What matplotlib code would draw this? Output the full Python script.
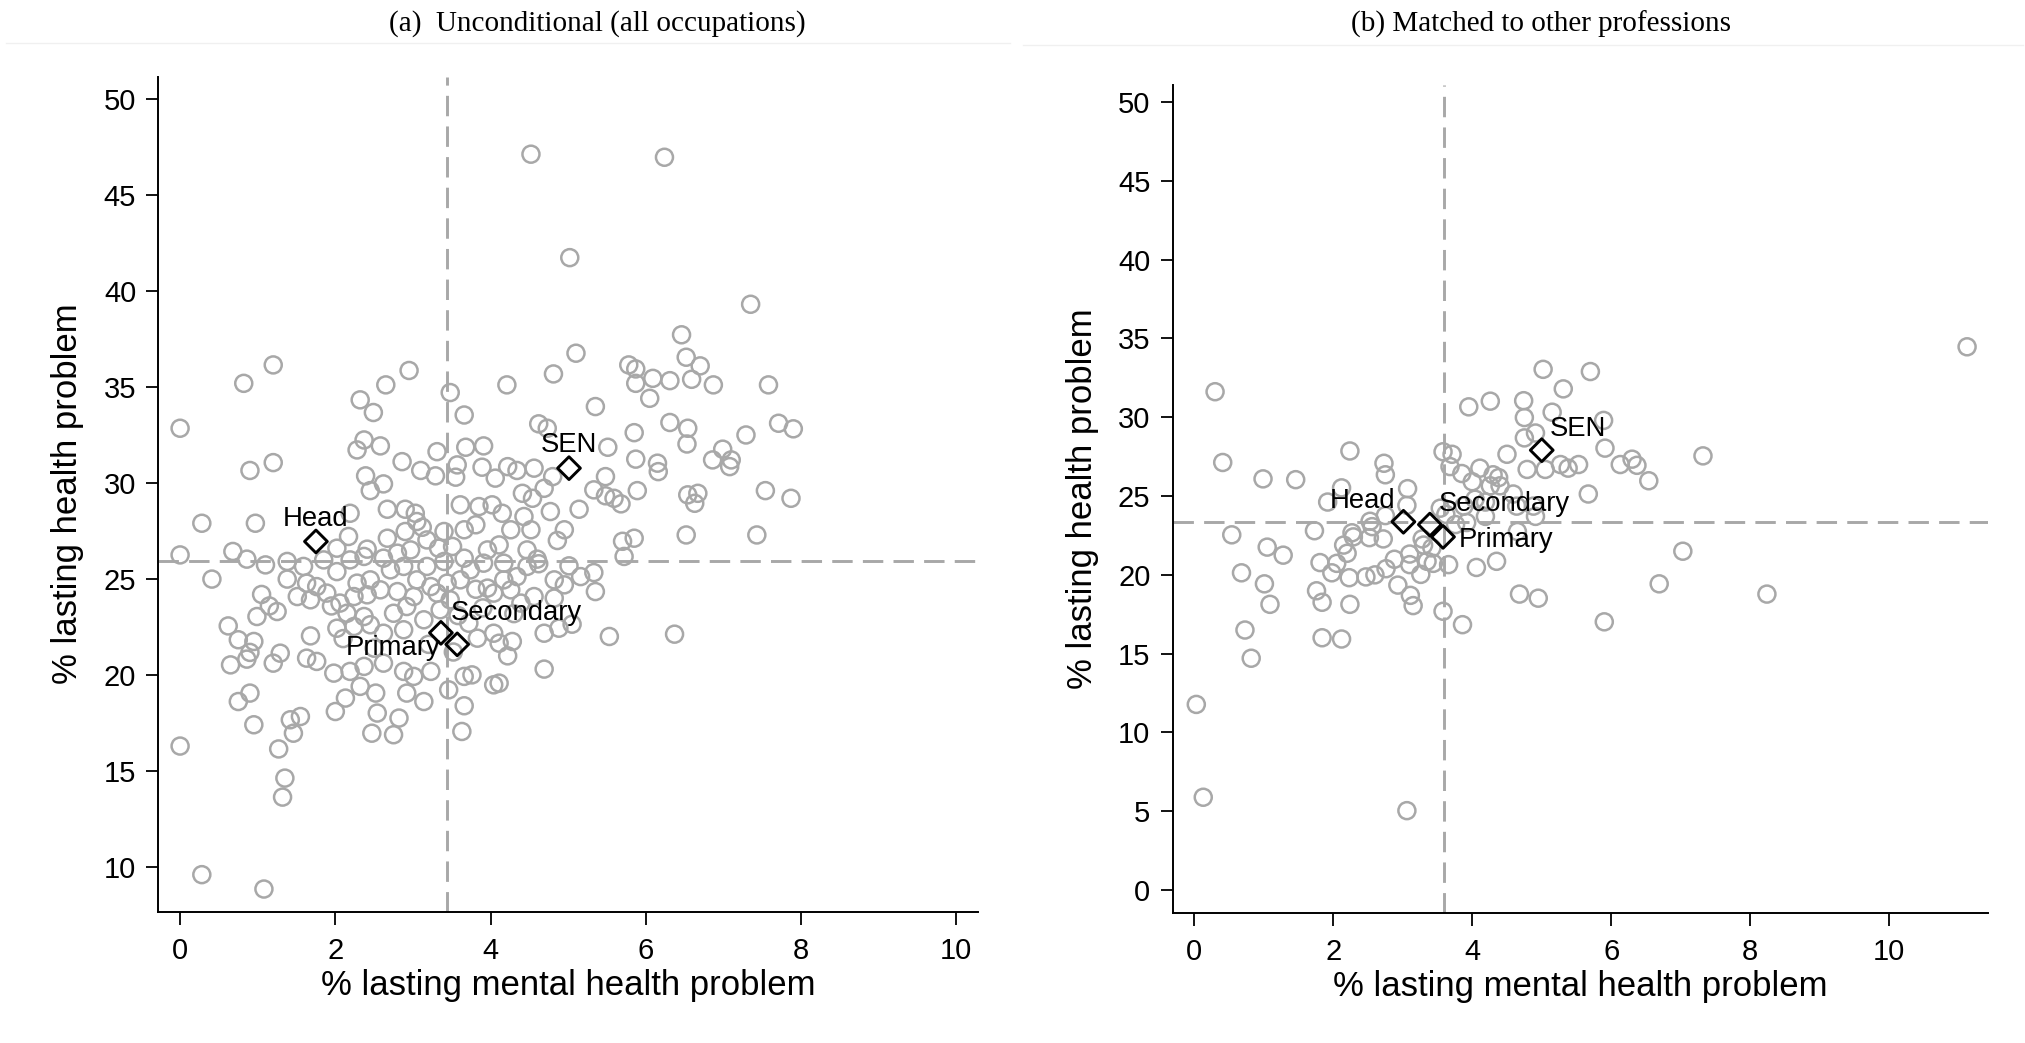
import matplotlib
matplotlib.use("Agg")
import matplotlib.pyplot as plt
from matplotlib.lines import Line2D

# ---------------- Panel (a): all occupations ----------------
mental_a = [
    1.20, 0.82, 2.65, 2.95, 4.21, 4.81, 5.10, 5.78, 5.87, 5.87, 3.48, 2.32, 2.49, 3.66, 5.35, 6.05,
    0.00, 4.62, 4.73, 5.85, 2.37, 2.28, 2.58, 3.68, 3.91, 5.51, 3.31, 1.20, 0.90, 2.86, 3.10, 3.29,
    3.57, 3.55, 3.89, 4.06, 4.22, 4.34, 4.56, 2.39, 4.80, 5.48, 5.87, 2.45, 2.62, 4.41, 4.54, 4.69,
    5.33, 5.48, 5.59, 5.68, 5.89, 2.67, 2.90, 3.03, 3.61, 3.85, 4.02, 4.15, 4.77, 5.14, 2.19, 0.28,
    0.97, 3.05, 3.40, 3.66, 3.81, 4.26, 4.43, 4.52, 4.95, 4.86, 2.90, 2.67, 2.41, 2.17, 2.02, 0.68,
    0.86, 0.00, 3.18, 3.33, 3.51, 3.96, 4.11, 4.47, 4.60, 5.70, 5.85, 5.72, 5.01, 2.97, 2.80, 1.10,
    1.38, 1.59, 1.85, 2.19, 2.37, 2.62, 2.88, 3.18, 3.40, 3.66, 3.74, 3.91, 4.17, 4.47, 0.41, 1.38,
    1.63, 1.76, 2.02, 2.28, 2.45, 2.71, 3.05, 3.23, 3.44, 3.61, 3.96, 4.17, 4.34, 4.82, 5.16, 5.33,
    5.35, 4.95, 1.51, 1.68, 1.89, 2.06, 2.24, 2.41, 2.58, 2.80, 3.01, 3.31, 3.48, 3.81, 4.04, 4.26,
    4.39, 4.56, 4.82, 0.62, 0.99, 1.25, 2.15, 2.37, 2.75, 2.92, 3.14, 0.75, 0.95, 0.90, 1.29, 1.68,
    2.02, 2.24, 2.45, 2.62, 2.88, 4.04, 4.69, 4.88, 5.05, 5.53, 4.11, 4.28, 3.83, 0.65, 0.86, 1.20,
    1.63, 1.76, 1.98, 2.19, 2.37, 2.62, 2.88, 3.01, 3.23, 3.66, 3.76, 4.22, 4.69, 4.04, 4.11, 0.75,
    0.90, 2.13, 2.32, 2.52, 2.92, 3.14, 3.46, 3.66, 0.95, 1.42, 1.55, 1.46, 2.00, 2.54, 2.82, 2.47,
    2.75, 3.63, 0.00, 1.27,
    6.52, 6.70, 6.59, 6.09, 6.31, 6.87, 7.58, 6.31, 6.54, 6.53, 7.29, 7.71, 7.90, 6.86, 6.99, 7.10,
    7.08, 6.15, 6.16, 6.54, 6.67, 6.63, 7.54, 7.87, 6.52, 7.43, 6.37,
    4.52, 6.24, 5.02, 7.35, 6.46,
    1.35, 1.32, 0.28, 1.08,
    3.35, 3.58, 3.72, 3.20, 3.52, 2.50, 2.10, 1.95, 4.30, 4.62, 1.05, 1.15, 3.90, 3.12,
]
health_a = [
    36.16, 35.20, 35.12, 35.87, 35.12, 35.69, 36.77, 36.16, 35.95, 35.20, 34.72, 34.34, 33.68, 33.55, 33.99, 34.42,
    32.86, 33.09, 32.86, 32.63, 32.25, 31.73, 31.94, 31.87, 31.94, 31.87, 31.64, 31.07, 30.66, 31.12, 30.66, 30.38,
    30.95, 30.31, 30.83, 30.26, 30.86, 30.66, 30.78, 30.38, 30.34, 30.34, 31.25, 29.61, 29.96, 29.47, 29.21, 29.73,
    29.65, 29.34, 29.21, 28.92, 29.61, 28.64, 28.64, 28.43, 28.87, 28.78, 28.87, 28.43, 28.52, 28.64, 28.43, 27.91,
    27.91, 28.00, 27.48, 27.57, 27.83, 27.57, 28.26, 27.57, 27.57, 27.01, 27.48, 27.13, 26.56, 27.22, 26.61, 26.44,
    26.04, 26.26, 27.04, 26.61, 26.70, 26.52, 26.78, 26.52, 26.04, 26.97, 27.13, 26.18, 25.69, 26.52, 26.35, 25.74,
    25.92, 25.66, 26.00, 26.00, 26.18, 26.09, 25.66, 25.66, 25.92, 26.09, 25.48, 25.83, 25.83, 25.66, 25.00, 25.00,
    24.79, 24.61, 25.39, 24.79, 24.96, 25.48, 24.96, 24.61, 24.79, 24.96, 24.53, 24.96, 25.13, 24.96, 25.13, 25.34,
    24.35, 24.70, 24.09, 23.92, 24.27, 23.75, 24.09, 24.18, 24.44, 24.35, 24.09, 24.27, 23.92, 24.47, 24.27, 24.44,
    23.75, 24.09, 24.01, 22.56, 23.05, 23.31, 23.22, 23.05, 23.22, 23.57, 22.88, 21.84, 21.75, 21.18, 21.14, 22.04,
    22.44, 22.53, 22.62, 22.18, 22.36, 22.18, 22.18, 22.44, 22.65, 22.01, 21.66, 21.75, 21.92, 20.53, 20.83, 20.62,
    20.88, 20.71, 20.10, 20.19, 20.45, 20.62, 20.19, 19.93, 20.19, 19.93, 20.01, 21.00, 20.31, 19.49, 19.58, 18.62,
    19.06, 18.80, 19.41, 19.06, 19.06, 18.62, 19.23, 18.40, 17.41, 17.67, 17.84, 16.97, 18.10, 18.02, 17.76, 16.97,
    16.89, 17.06, 16.30, 16.15,
    36.56, 36.11, 35.41, 35.46, 35.34, 35.12, 35.12, 33.16, 32.86, 32.04, 32.51, 33.12, 32.83, 31.21, 31.77, 31.21,
    30.86, 31.04, 30.60, 29.39, 29.47, 28.95, 29.61, 29.21, 27.30, 27.30, 22.13,
    47.14, 46.98, 41.75, 39.32, 37.73,
    14.63, 13.64, 9.60, 8.85,
    23.40, 23.10, 22.70, 21.60, 21.20, 21.40, 21.90, 23.60, 23.20, 25.80, 24.20, 23.60, 23.50, 27.70,
]
groups = ["Head", "SEN", "Secondary", "Primary"]
grp_mental_a = [1.75, 5.01, 3.36, 3.57]
grp_health_a = [26.96, 30.78, 22.20, 21.60]
mean_mental_a = 3.44
mean_health_a = 25.95

# ---------------- Panel (b): matched to other professions ----------------
mental_b = [
    0.30, 0.41, 0.99, 1.46, 2.24, 2.73, 2.75, 3.07, 3.06, 2.12, 1.92, 3.95, 4.26, 4.74, 4.75, 5.02,
    5.31, 5.70, 5.15, 4.91, 4.75, 5.89, 5.91, 6.13, 6.30, 6.37, 6.54, 5.67, 5.53, 5.38, 5.27, 5.05,
    4.79, 4.50, 4.38, 4.26, 4.11, 3.85, 3.58, 3.71, 3.68, 4.00, 4.59, 4.64, 4.88, 4.91, 4.19, 4.19,
    3.88, 3.92, 3.62, 3.76, 3.54, 2.75, 2.53, 2.56, 2.27, 2.29, 2.52, 2.72, 2.15, 2.20, 1.73, 0.54,
    1.05, 1.28, 1.81, 2.05, 1.98, 2.23, 2.47, 2.60, 2.76, 2.88, 3.10, 3.10, 3.26, 3.35, 3.44, 3.30,
    3.66, 3.42, 3.28, 4.06, 4.35, 2.93, 3.11, 3.15, 3.58, 3.86, 0.68, 1.01, 1.09, 0.73, 0.82, 1.76,
    1.84, 2.24, 1.84, 2.12, 4.68, 4.95, 5.90, 6.69, 7.03, 4.65, 0.03, 0.13, 3.06, 4.30, 4.40, 4.04,
    11.12, 7.32, 8.24,
]
health_b = [
    31.62, 27.13, 26.09, 26.04, 27.86, 27.08, 26.35, 25.47, 24.41, 25.52, 24.62, 30.66, 31.02, 31.05, 29.98, 33.04,
    31.80, 32.90, 30.32, 29.00, 28.69, 29.80, 28.04, 27.00, 27.34, 26.95, 25.97, 25.13, 27.00, 26.77, 27.00, 26.69,
    26.69, 27.65, 26.17, 25.65, 26.77, 26.43, 27.81, 27.65, 26.87, 25.91, 25.13, 24.36, 24.36, 23.71, 24.62, 23.71,
    24.36, 23.32, 23.84, 23.19, 24.23, 23.76, 23.40, 23.06, 22.67, 22.41, 22.36, 22.28, 21.89, 21.37, 22.80, 22.54,
    21.76, 21.25, 20.78, 20.73, 20.13, 19.82, 19.87, 20.00, 20.39, 20.99, 21.32, 20.65, 20.03, 20.86, 20.73, 21.89,
    20.65, 21.71, 22.28, 20.47, 20.86, 19.35, 18.70, 18.05, 17.69, 16.84, 20.13, 19.43, 18.13, 16.50, 14.71, 18.99,
    18.26, 18.13, 16.01, 15.93, 18.78, 18.52, 17.02, 19.43, 21.50, 22.75, 11.78, 5.89, 5.04, 26.35, 25.65, 24.80,
    34.47, 27.55, 18.78,
]
grp_mental_b = [3.01, 5.00, 3.39, 3.58]
grp_health_b = [23.37, 27.91, 23.19, 22.41]
mean_mental_b = 3.59
mean_health_b = 23.38

# label placement per group: (ha, dx, dy) in points
label_pos_a = {
    "Head": ("center", 0, 11.5),
    "SEN": ("center", 0, 12),
    "Secondary": ("left", 7, 9.5),
    "Primary": ("right", -12, -7.5),
}
label_pos_b = {
    "Head": ("right", -6, 10),
    "SEN": ("left", 6, 10),
    "Secondary": ("left", 6.5, 10),
    "Primary": ("left", 11.5, -7.5),
}

SANS = "Liberation Sans"
SERIF = "Liberation Serif"
GREY = "#a8a8a8"
TICK_FS = 21
LABEL_FS = 25
MLAB_FS = 19.8

fig = plt.figure(figsize=(20.25, 10.43), dpi=100)
fig.patch.set_facecolor("white")


def draw_panel(ax, mx, hy, gx, gy, vmean, hmean, positions, xlim, ylim, yticks):
    ax.axvline(vmean, color=GREY, lw=2.1, dashes=(7, 3.5), zorder=1)
    ax.axhline(hmean, color=GREY, lw=2.1, dashes=(7, 3.5), zorder=1)
    ax.scatter(mx, hy, s=150, facecolors="none", edgecolors=GREY,
               linewidths=1.8, zorder=2)
    ax.scatter(gx, gy, s=135, marker="D", facecolors="none",
               edgecolors="black", linewidths=2.1, zorder=3)
    for name, x, y in zip(groups, gx, gy):
        ha, dx, dy = positions[name]
        ax.annotate(name, (x, y), xytext=(dx, dy), textcoords="offset points",
                    ha=ha, va="baseline", fontsize=MLAB_FS, family=SANS,
                    color="black", zorder=4)
    ax.set_xlim(*xlim)
    ax.set_ylim(*ylim)
    ax.set_xticks([0, 2, 4, 6, 8, 10])
    ax.set_yticks(yticks)
    for s in ("top", "right"):
        ax.spines[s].set_visible(False)
    for s in ("left", "bottom"):
        ax.spines[s].set_linewidth(1.4)
    ax.tick_params(axis="both", direction="out", length=9, width=1.3,
                   labelsize=TICK_FS)
    ax.tick_params(axis="x", pad=9)
    ax.tick_params(axis="y", pad=7)
    for lab in ax.get_xticklabels() + ax.get_yticklabels():
        lab.set_family(SANS)
    ax.set_xlabel("% lasting mental health problem", fontsize=LABEL_FS,
                  family=SANS, labelpad=3)
    ax.set_ylabel("% lasting health problem", fontsize=LABEL_FS,
                  family=SANS, labelpad=14)


ax_a = fig.add_axes([0.0782, 0.1259, 0.4048, 0.8006])
draw_panel(ax_a, mental_a, health_a, grp_mental_a, grp_health_a,
           mean_mental_a, mean_health_a, label_pos_a,
           (-0.28, 10.28), (7.67, 51.18), list(range(10, 51, 5)))

ax_b = fig.add_axes([0.5791, 0.1250, 0.4026, 0.7935])
draw_panel(ax_b, mental_b, health_b, grp_mental_b, grp_health_b,
           mean_mental_b, mean_health_b, label_pos_b,
           (-0.31, 11.42), (-1.43, 51.08), list(range(0, 51, 5)))

# panel captions
fig.text(0.2948, 0.977, "(a)  Unconditional (all occupations)", family=SERIF,
         fontsize=21, ha="center", va="center")
fig.text(0.761, 0.977, "(b) Matched to other professions", family=SERIF,
         fontsize=21, ha="center", va="center")

# faint separators under the captions
fig.add_artist(Line2D([0.003, 0.499], [0.959, 0.959], color="#f0f0f0", lw=1))
fig.add_artist(Line2D([0.505, 0.999], [0.957, 0.957], color="#f0f0f0", lw=1))

fig.savefig("out.png", dpi=100, facecolor="white")
